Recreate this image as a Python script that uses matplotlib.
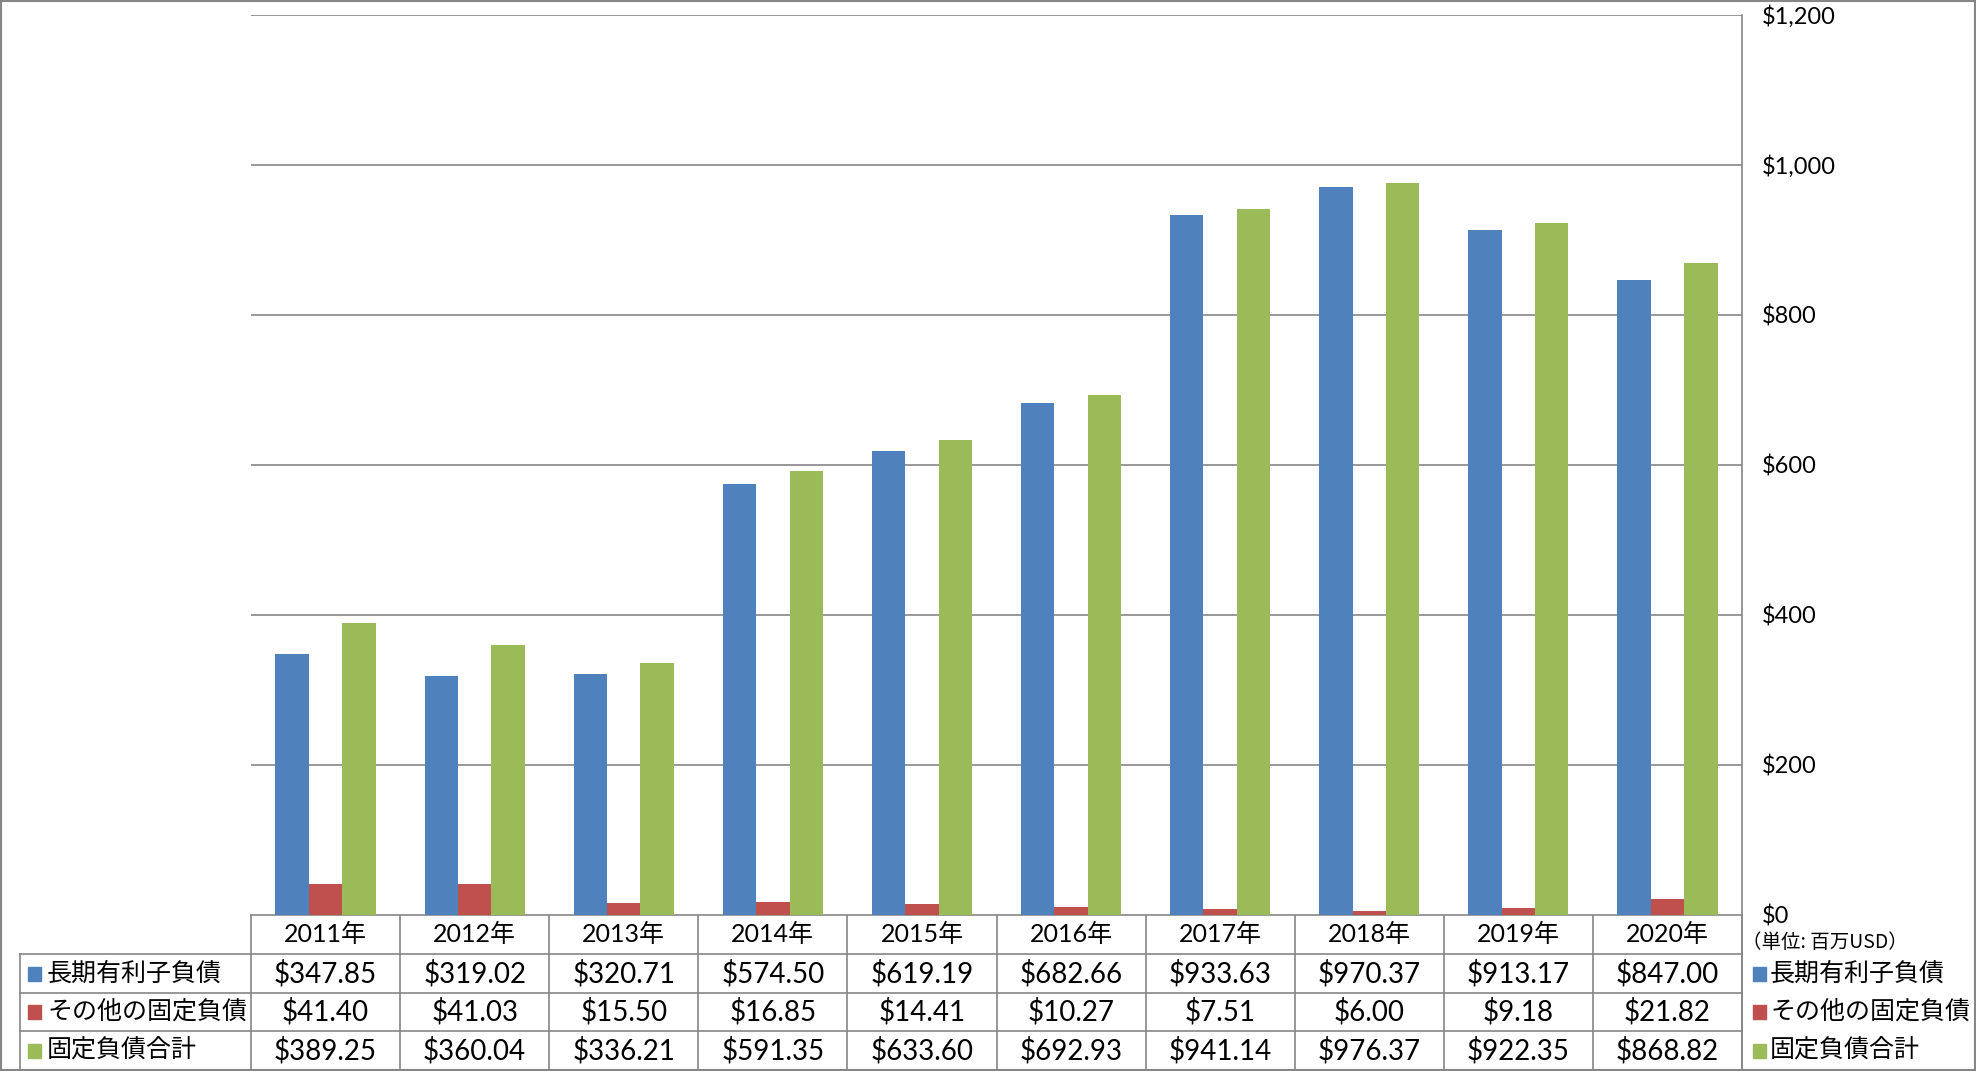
import matplotlib
matplotlib.use("Agg")
import matplotlib.pyplot as plt
import numpy as np
from matplotlib.patches import Rectangle

# data (unit: million USD)
years = ["2011年", "2012年", "2013年", "2014年", "2015年",
         "2016年", "2017年", "2018年", "2019年", "2020年"]
series_names = ["長期有利子負債", "その他の固定負債", "固定負債合計"]
long_term_debt = [347.85, 319.02, 320.71, 574.50, 619.19,
                  682.66, 933.63, 970.37, 913.17, 847.00]
other_fixed = [41.40, 41.03, 15.50, 16.85, 14.41,
               10.27, 7.51, 6.00, 9.18, 21.82]
fixed_total = [389.25, 360.04, 336.21, 591.35, 633.60,
               692.93, 941.14, 976.37, 922.35, 868.82]
colors = ["#4F81BD", "#C0504D", "#9BBB59"]
unit_label = "（単位: 百万USD）"

W, H = 1976, 1071
FONT = ["Lato", "Noto Sans CJK JP", "DejaVu Sans"]
JP = ["Noto Sans CJK JP", "DejaVu Sans"]
GRID = "#868686"

fig = plt.figure(figsize=(W / 100, H / 100), dpi=100)

# pixel layout
px_left, px_right, px_top, px_bottom = 251, 1742, 15, 915
ax = fig.add_axes([px_left / W, 1 - px_bottom / H,
                   (px_right - px_left) / W, (px_bottom - px_top) / H])

series = [long_term_debt, other_fixed, fixed_total]
x = np.arange(len(years))
bw = 0.224
for i, vals in enumerate(series):
    ax.bar(x + (i - 1) * bw, vals, bw, color=colors[i], zorder=3)

ax.set_xlim(-0.5, len(years) - 0.5)
ax.set_ylim(0, 1200)
ax.set_yticks(np.arange(0, 1201, 200))
ax.yaxis.tick_right()
ax.set_yticklabels(["${:,.0f}".format(v) for v in np.arange(0, 1201, 200)],
                   family=FONT, fontsize=17)
ax.tick_params(axis="y", length=0, pad=14)
ax.set_xticks([])
ax.grid(axis="y", color=GRID, linewidth=1.2, zorder=0)
for s in ["left", "top", "bottom"]:
    ax.spines[s].set_visible(False)
ax.spines["right"].set_color(GRID)
ax.spines["right"].set_linewidth(1.2)

# overlay in pixel coordinates for the data table and side legend
ov = fig.add_axes([0, 0, 1, 1], zorder=-1)
ov.set_xlim(0, W)
ov.set_ylim(H, 0)
ov.axis("off")

col_w = (px_right - px_left) / len(years)
row_y = [915, 954, 993, 1031, 1070]
lab_left = 20

lk = dict(color=GRID, linewidth=1.2)
# header row
ov.plot([px_left, px_right], [row_y[0], row_y[0]], **lk)
for r in range(1, 5):
    ov.plot([lab_left, px_right], [row_y[r], row_y[r]], **lk)
for c in range(len(years) + 1):
    ov.plot([px_left + c * col_w] * 2, [row_y[0], row_y[4]], **lk)
ov.plot([lab_left, lab_left], [row_y[1], row_y[4]], **lk)
ov.plot([px_right, px_right], [row_y[0], row_y[4]], **lk)

for c, yr in enumerate(years):
    ov.text(px_left + (c + 0.5) * col_w, (row_y[0] + row_y[1]) / 2, yr,
            ha="center", va="center", family=FONT, fontsize=18)

for r, (name, vals) in enumerate(zip(series_names, series)):
    yc = (row_y[r + 1] + row_y[r + 2]) / 2
    ov.add_patch(Rectangle((28, yc - 7), 13, 14, color=colors[r]))
    ov.text(47, yc, name, ha="left", va="center", family=JP, fontsize=18)
    for c, v in enumerate(vals):
        ov.text(px_left + (c + 0.5) * col_w, yc, "${:,.2f}".format(v),
                ha="center", va="center", family=FONT, fontsize=20)
    # side legend
    ov.add_patch(Rectangle((1753, yc - 7), 13, 14, color=colors[r]))
    ov.text(1770, yc, name, ha="left", va="center", family=JP, fontsize=18)

ov.text(1742, 943, unit_label, ha="left", va="center", family=JP,
        fontsize=14)

# figure border
ov.add_patch(Rectangle((1, 1), W - 2, H - 2, fill=False, edgecolor=GRID,
                       linewidth=1.5))

fig.savefig("out.png", dpi=100)
